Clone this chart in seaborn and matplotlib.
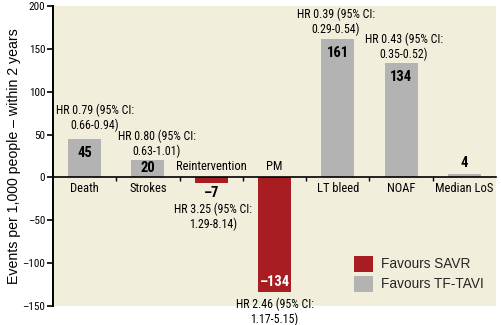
import matplotlib
matplotlib.use("Agg")
import matplotlib.pyplot as plt
from matplotlib.patches import Patch
from matplotlib.ticker import FixedLocator
import seaborn as sns
import pandas as pd

# Events per 1,000 people within 2 years (TF-TAVI vs SAVR)
categories = ["Death", "Strokes", "Reintervention", "PM", "LT bleed", "NOAF", "Median LoS"]
values = [45, 20, -7, -134, 161, 134, 4]
favours = ["Favours TF-TAVI", "Favours TF-TAVI", "Favours SAVR", "Favours SAVR",
           "Favours TF-TAVI", "Favours TF-TAVI", "Favours TF-TAVI"]
value_labels = ["45", "20", "\u20137", "\u2013134", "161", "134", "4"]
hr_labels = [
    "HR 0.79 (95% CI:\n0.66-0.94)",
    "HR 0.80 (95% CI:\n0.63-1.01)",
    "HR 3.25 (95% CI:\n1.29-8.14)",
    "HR 2.46 (95% CI:\n1.17-5.15)",
    "HR 0.39 (95% CI:\n0.29-0.54)",
    "HR 0.43 (95% CI:\n0.35-0.52)",
    None,
]
y_ticks = [-150, -100, -50, 0, 50, 100, 150, 200]
legend_order = ["Favours SAVR", "Favours TF-TAVI"]

RED = "#A71D21"
GREY = "#B3B3B3"
BG = "#F2EEDC"
palette = {"Favours SAVR": RED, "Favours TF-TAVI": GREY}

sns.set_theme(style="white")
NARROW = ["Roboto Condensed", "DejaVu Sans"]
REGULAR = ["Liberation Sans", "DejaVu Sans"]
plt.rcParams["font.family"] = NARROW

df = pd.DataFrame({"category": categories, "value": values, "favours": favours})

fig = plt.figure(figsize=(5.02, 3.25), dpi=100)
ax = fig.add_axes([53 / 502, 19 / 325, 443 / 502, 300 / 325])
ax.set_facecolor(BG)

sns.barplot(data=df, x="category", y="value", hue="favours", order=categories,
            palette=palette, dodge=False, width=0.52, saturation=1,
            linewidth=0, legend=False, ax=ax)

ax.set_xlim(-0.5, 6.5)
ax.set_ylim(-150, 200)

# Spines: left axis plus a baseline at zero
for side in ("top", "right"):
    ax.spines[side].set_visible(False)
ax.spines["bottom"].set_position(("data", 0))
ax.spines["bottom"].set_linewidth(1.2)
ax.spines["left"].set_linewidth(1.4)
ax.spines["bottom"].set_color("black")
ax.spines["left"].set_color("black")

ax.set_yticks(y_ticks)
ax.set_yticklabels([f"{t:d}".replace("-", "\u2013") for t in y_ticks])
ax.tick_params(axis="y", which="major", direction="out", length=4, width=1.2,
               pad=1.5, labelsize=8, colors="black", left=True)

# Ticks between categories, category names as text near the baseline
ax.set_xticks([])
ax.xaxis.set_minor_locator(FixedLocator([i + 0.5 for i in range(len(categories) - 1)]))
ax.tick_params(axis="x", which="minor", direction="out", length=3, width=1,
               colors="black", bottom=True)
ax.set_xlabel("")

ax.set_ylabel("Events per 1,000 people \u2013 within 2 years", fontsize=10.2,
              family=REGULAR, color="black")
ax.yaxis.set_label_coords(-0.072, 0.5)

for i, (cat, v) in enumerate(zip(categories, values)):
    if v < 0:
        ax.annotate(cat, (i, 0), xytext=(0, 4), textcoords="offset pixels",
                    ha="center", va="bottom", fontsize=9, color="black")
    else:
        ax.annotate(cat, (i, 0), xytext=(0, -5), textcoords="offset pixels",
                    ha="center", va="top", fontsize=9, color="black")

# Value labels on the bars
value_style = {  # (x offset, y offset, va, colour)
    0: (0, -7, "top", "black"),
    1: (0, -1, "top", "black"),
    2: (0, -3, "top", "black"),
    3: (0, 3, "bottom", "white"),
    4: (0, -7, "top", "black"),
    5: (0, -7, "top", "black"),
    6: (0, 4, "bottom", "black"),
}
for i, (v, lab) in enumerate(zip(values, value_labels)):
    dx, dy, va, col = value_style[i]
    ax.annotate(lab, (i, v), xytext=(dx, dy), textcoords="offset pixels",
                ha="center", va=va, fontsize=10.5, fontweight="bold", color=col,
                annotation_clip=False)

# Hazard-ratio notes
hr_style = {  # (x offset, y offset, va)
    0: (10, 7, "bottom"),
    1: (9, 2, "bottom"),
    2: (2, -19, "top"),
    3: (0, -5, "top"),
    4: (-2, 3, "bottom"),
    5: (3, 2, "bottom"),
}
for i, (v, lab) in enumerate(zip(values, hr_labels)):
    if lab is None:
        continue
    dx, dy, va = hr_style[i]
    ax.annotate(lab, (i, v), xytext=(dx, dy), textcoords="offset pixels",
                ha="center", va=va, fontsize=8.6, linespacing=1.15, color="black",
                annotation_clip=False)

handles = [Patch(facecolor=palette[k], edgecolor="none", label=k) for k in legend_order]
fig.legend(handles=handles, loc="upper left", bbox_to_anchor=(354 / 502, 1 - 256 / 325),
           frameon=False, borderpad=0, borderaxespad=0, handlelength=1.4, handleheight=1.4,
           handletextpad=0.6, labelspacing=0.3, prop={"family": REGULAR, "size": 9.8})

fig.savefig("out.png", dpi=100, facecolor="white")
